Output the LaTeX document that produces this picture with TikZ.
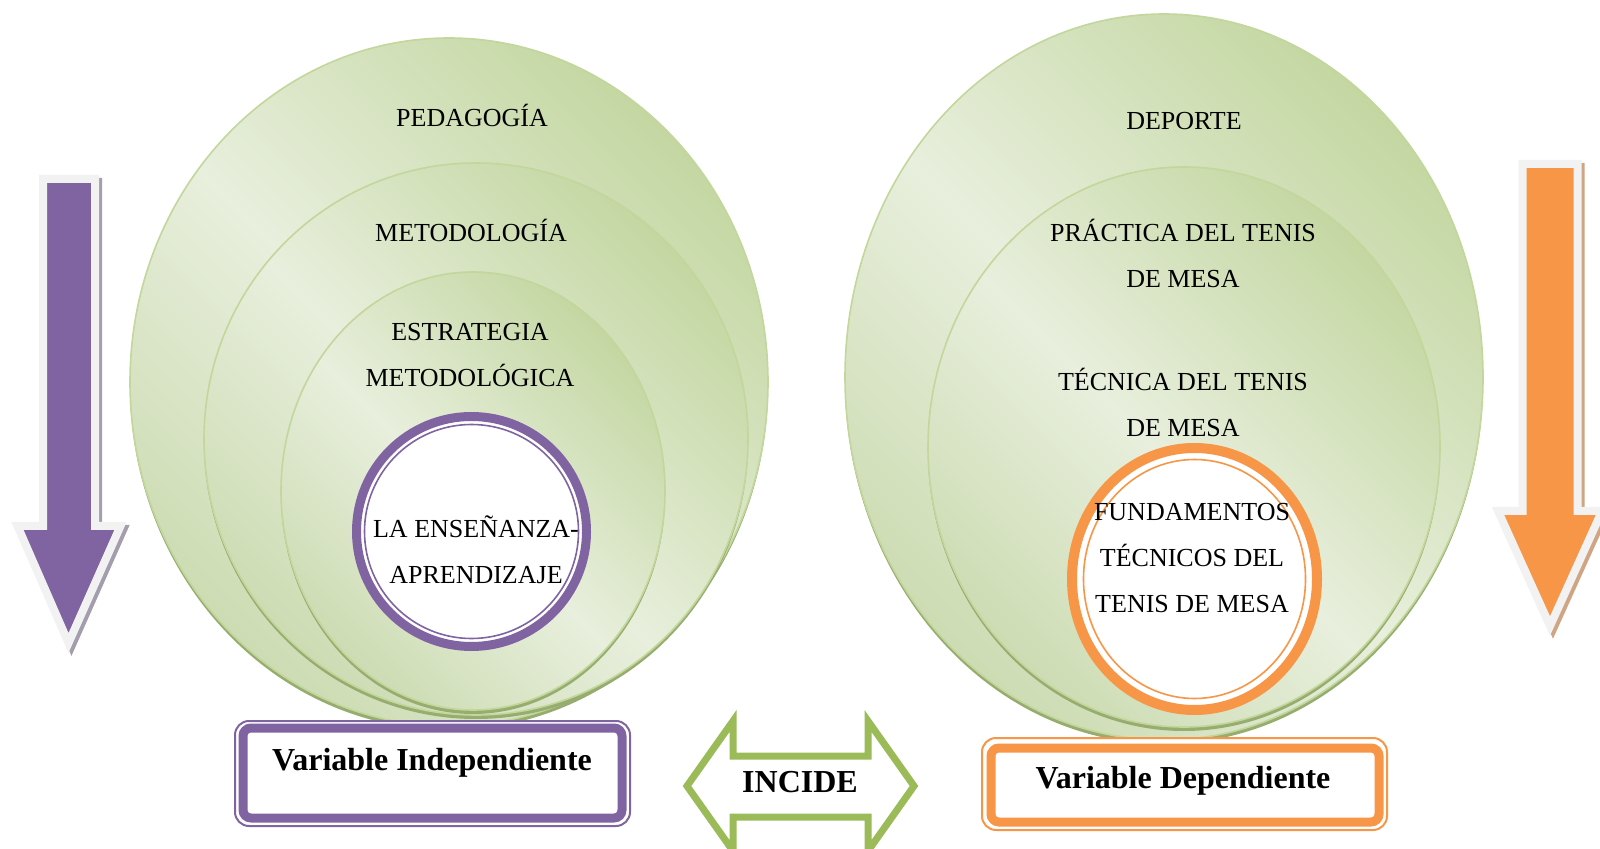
\documentclass[tikz,border=0pt]{standalone}
\usepackage{fontspec}
\setmainfont{Liberation Serif}
\definecolor{greenlight}{HTML}{E8EFDD}
\definecolor{greenmid}{HTML}{CDDCB3}
\definecolor{greendark}{HTML}{C4D7A2}
\definecolor{greenedge}{HTML}{C3D69B}
\definecolor{greenrim}{HTML}{97AD70}
\definecolor{purp}{HTML}{8064A2}
\definecolor{orng}{HTML}{F79646}
\definecolor{arrowgreen}{HTML}{9BBB59}
\definecolor{paleborder}{HTML}{F2F2F2}
\definecolor{purpshadow}{HTML}{A49DAE}
\definecolor{orngshadow}{HTML}{CFA584}
\pgfdeclarehorizontalshading{discfade}{100bp}{color(0bp)=(greenmid); color(25bp)=(greenmid); color(48bp)=(greenlight); color(75bp)=(greendark); color(100bp)=(greendark)}
\begin{document}
\begin{tikzpicture}[x=0.5pt, y=-0.5pt,
		rim/.style={fill=greenrim},
		disc/.style={draw=greenedge, line width=0.8pt, shading=discfade, shading angle=45},
		lbl/.style={font=\fontsize{13}{23}\selectfont, align=center, anchor=base},
		varlbl/.style={font=\fontsize{16}{19}\selectfont\bfseries, anchor=base},
		downarrow/.style={line width=4pt, miter limit=10}]
			\useasboundingbox (0,0) rectangle (1600,849);

			% side arrows
			\filldraw[downarrow, purpshadow, shift={(3,3)}] (43,179) -- (95,179) -- (95,526) -- (120.5,526) -- (68.5,643) -- (17.5,526) -- (43,526) -- cycle;
			\filldraw[downarrow, draw=paleborder, fill=purp] (43,179) -- (95,179) -- (95,526) -- (120.5,526) -- (68.5,643) -- (17.5,526) -- (43,526) -- cycle;
			\filldraw[downarrow, orngshadow, shift={(3,3)}] (1522.5,164) -- (1577.5,164) -- (1577.5,511) -- (1602,511) -- (1550,626) -- (1498,511) -- (1522.5,511) -- cycle;
			\filldraw[downarrow, draw=paleborder, fill=orng] (1522.5,164) -- (1577.5,164) -- (1577.5,511) -- (1602,511) -- (1550,626) -- (1498,511) -- (1522.5,511) -- cycle;

			% left ellipses
			\fill[rim] (449,386) ellipse [x radius=319, y radius=344];
			\path[disc] (449,382) ellipse [x radius=319, y radius=344];
			\fill[rim] (476,443) ellipse [x radius=272, y radius=276];
			\path[disc] (476,439) ellipse [x radius=272, y radius=276];
			\fill[rim] (473,495) ellipse [x radius=192, y radius=219];
			\path[disc] (473,491) ellipse [x radius=192, y radius=219];
			\draw[purp, line width=4.5pt, fill=white] (471.5,531.5) circle [radius=115];
			\draw[purp, line width=0.8pt] (471.5,531.5) circle [radius=107];

			% right ellipses
			\fill[rim] (1164,381) ellipse [x radius=319, y radius=363];
			\path[disc] (1164,377) ellipse [x radius=319, y radius=363];
			\fill[rim] (1184,451) ellipse [x radius=256, y radius=280];
			\path[disc] (1184,447) ellipse [x radius=256, y radius=280];
			\draw[orng, line width=5pt, fill=white] (1194.5,579) ellipse [x radius=122.5, y radius=131];
			\draw[orng, line width=0.8pt] (1194.5,579) ellipse [x radius=111, y radius=119.5];

			% text in the ellipses, placed at the baseline of the last line
			\node[lbl] at (472,127) (pedagogia) {PEDAGOGÍA};
			\node[lbl] at (471,242) (metodologia) {METODOLOGÍA};
			\node[lbl] at (470,387) (estrategia) {ESTRATEGIA\\METODOLÓGICA};
			\node[lbl] at (476,583) (ensenanza) {LA ENSEÑANZA-\\APRENDIZAJE};
			\node[lbl] at (1184,130) (deporte) {DEPORTE};
			\node[lbl] at (1183,288) (practica) {PRÁCTICA DEL TENIS\\DE MESA};
			\node[lbl] at (1183,437) (tecnica) {TÉCNICA DEL TENIS\\DE MESA};
			\node[lbl] at (1192,612) (fundamentos) {FUNDAMENTOS\\TÉCNICOS DEL\\TENIS DE MESA};

			% variable boxes
			\draw[purp, line width=1pt, rounded corners=7pt, fill=white] (235,721) rectangle (630,826);
			\draw[purp, line width=4.5pt, rounded corners=4pt, fill=white] (243,728) rectangle (622,818);
			\node[varlbl] at (432,770) (independiente) {Variable Independiente};
			\draw[orng, line width=1pt, rounded corners=7pt, fill=white] (982,738) rectangle (1387,830);
			\draw[orng, line width=4.5pt, rounded corners=4pt, fill=white] (991,748) rectangle (1379,822);
			\node[varlbl] at (1183,788) (dependiente) {Variable Dependiente};

			% double arrow
			\draw[arrowgreen, line width=3.5pt, fill=white, miter limit=10] (687,786) -- (733,721) -- (733,756) -- (868,756) -- (868,721) -- (914,786) -- (868,851) -- (868,817) -- (733,817) -- (733,851) -- cycle;
			\node[varlbl] at (800,792) (incide) {INCIDE};
		\end{tikzpicture}
\end{document}
